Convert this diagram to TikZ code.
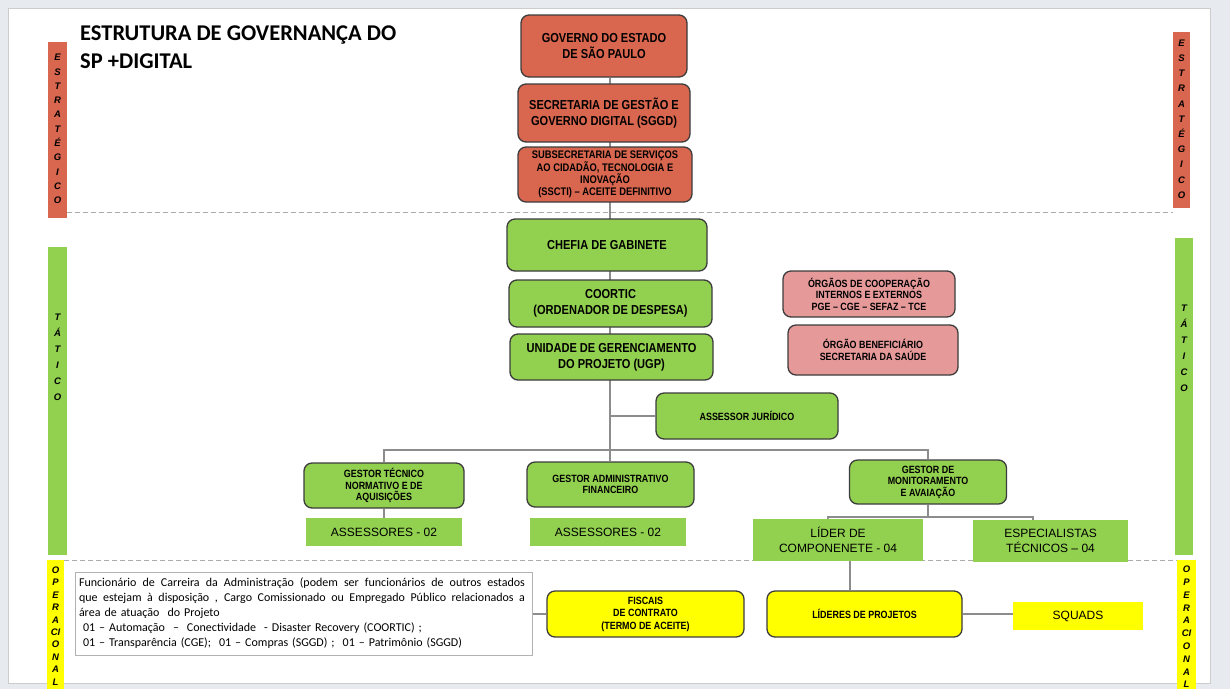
\documentclass[tikz,border=0pt]{standalone}
\usepackage{fontspec}
\setmainfont{Liberation Sans}
\newfontfamily\boxfont[FakeStretch=0.85]{Liberation Sans}
\newfontfamily\titlefont{Carlito}
\usetikzlibrary{calc}
\usetikzlibrary{backgrounds}

\definecolor{redfill}{RGB}{217,102,79}
\definecolor{greenfill}{RGB}{146,208,80}
\definecolor{pinkfill}{RGB}{230,153,153}
\definecolor{yellowfill}{RGB}{255,255,0}
\definecolor{boxline}{RGB}{60,60,60}
\definecolor{linkgray}{RGB}{140,140,140}
\definecolor{framegray}{RGB}{231,234,239}

% justified line of the note box
\newcommand{\spreadline}[1]{\leavevmode\hbox to 446pt{\spaceskip=2.7pt plus 1fil\relax #1}}

\begin{document}
\begin{tikzpicture}[x=1pt,y=-1pt]

% Define styles
\tikzset{
    box/.style={draw=boxline, line width=1.3pt, rounded corners=8pt, align=center, inner sep=2pt,
        font=\boxfont\bfseries\fontsize{13}{16}\selectfont},
    smalltext/.style={font=\boxfont\bfseries\fontsize{10.5}{11.5}\selectfont},
    redbox/.style={box, fill=redfill},
    greenbox/.style={box, fill=greenfill},
    pinkbox/.style={box, fill=pinkfill, smalltext},
    yellowbox/.style={box, fill=yellowfill, smalltext},
    greenflat/.style={fill=greenfill, align=center, inner sep=1pt, font=\fontsize{12}{15}\selectfont},
    yellowflat/.style={fill=yellowfill, align=center, inner sep=1pt, font=\fontsize{12}{15}\selectfont},
    barletters/.style={align=center, inner sep=0pt, font=\bfseries\itshape\fontsize{9.5}{#1}\selectfont},
    sepline/.style={draw=gray!65, line width=1pt, dash pattern=on 5pt off 3pt},
    link/.style={draw=linkgray, line width=1.2pt}
}

% zeige nur die Seite
\useasboundingbox (0,0) rectangle (1230,689);

% level bars, left and right
\fill[redfill] (48,42) rectangle (67,218);
\fill[redfill] (1173,32) rectangle (1190,208);
\fill[greenfill] (48,247) rectangle (67,555);
\fill[greenfill] (1175,238) rectangle (1193,555);
\fill[yellowfill] (47,560) rectangle (64,689);
\fill[yellowfill] (1177,560) rectangle (1196,689);

\node[barletters=14.3] (ESTL) at (57.5,129) {E\\S\\T\\R\\A\\T\\É\\G\\I\\C\\O};
\node[barletters=15.2] (ESTR) at (1181.5,119) {E\\S\\T\\R\\A\\T\\É\\G\\I\\C\\O};
\node[barletters=16] (TATL) at (57.5,357) {T\\Á\\T\\I\\C\\O};
\node[barletters=16] (TATR) at (1184,348) {T\\Á\\T\\I\\C\\O};
\node[barletters=12.4] (OPEL) at (55.5,626) {O\\P\\E\\R\\A\\CI\\O\\N\\A\\L};
\node[barletters=12.8] (OPER) at (1186.5,627) {O\\P\\E\\R\\A\\CI\\O\\N\\A\\L};

% level separators
\draw[sepline] (67,212) -- (1173,212);
\draw[sepline] (64,560) -- (1177,560);

% title
\node[anchor=north west, align=left, inner sep=0pt,
    font=\titlefont\bfseries\fontsize{22.5}{28}\selectfont] (TITLE) at (80,26)
    {ESTRUTURA DE GOVERNANÇA DO\\SP +DIGITAL};

% strategic level
\node[redbox, minimum width=166, minimum height=62] (GOV) at (604,46) {GOVERNO DO ESTADO\\DE SÃO PAULO};
\node[redbox, minimum width=172, minimum height=58] (SEC) at (604,113) {SECRETARIA DE GESTÃO E\\GOVERNO DIGITAL (SGGD)};
\node[redbox, minimum width=174, minimum height=55, font=\boxfont\bfseries\fontsize{11}{12}\selectfont] (SUB) at (605,174.5)
    {SUBSECRETARIA DE SERVIÇOS\\AO CIDADÃO, TECNOLOGIA E\\INOVAÇÃO\\(SSCTI) – ACEITE DEFINITIVO};

% tactical level
\node[greenbox, minimum width=200, minimum height=52] (CHEF) at (607,245) {CHEFIA DE GABINETE};
\node[greenbox, minimum width=203, minimum height=47] (COOR) at (610.5,303.5) {COORTIC\\(ORDENADOR DE DESPESA)};
\node[greenbox, minimum width=203, minimum height=46] (UGP) at (611.5,357) {UNIDADE DE GERENCIAMENTO\\DO PROJETO (UGP)};
\node[greenbox, smalltext, minimum width=182, minimum height=46] (ASJ) at (747,416) {ASSESSOR JURÍDICO};

\node[pinkbox, minimum width=172, minimum height=46] (ORGC) at (869,294) {ÓRGÃOS DE COOPERAÇÃO\\INTERNOS E EXTERNOS\\PGE – CGE – SEFAZ – TCE};
\node[pinkbox, minimum width=170, minimum height=50] (ORGB) at (873,350) {ÓRGÃO BENEFICIÁRIO\\SECRETARIA DA SAÚDE};

\node[greenbox, smalltext, minimum width=160, minimum height=45] (GTEC) at (384,485.5) {GESTOR TÉCNICO\\NORMATIVO E DE\\AQUISIÇÕES};
\node[greenbox, smalltext, minimum width=167, minimum height=45] (GADM) at (610.5,484.5) {GESTOR ADMINISTRATIVO\\FINANCEIRO};
\node[greenbox, smalltext, minimum width=157, minimum height=44] (GMON) at (928,482) {GESTOR DE\\MONITORAMENTO\\E AVAIAÇÃO};

\node[greenflat, minimum width=156, minimum height=28] (ASS1) at (384,532) {ASSESSORES - 02};
\node[greenflat, minimum width=156, minimum height=28] (ASS2) at (608,532) {ASSESSORES - 02};
\node[greenflat, minimum width=170, minimum height=42] (LCOMP) at (838,540) {LÍDER DE\\COMPONENETE - 04};
\node[greenflat, minimum width=155, minimum height=42] (ESPEC) at (1050.5,541) {ESPECIALISTAS\\TÉCNICOS – 04};

% operational level
\node[draw=gray!60, line width=0.8pt, minimum width=457, minimum height=83, inner xsep=4pt, inner ysep=3pt,
    text width=449, align=left, font=\titlefont\fontsize{12}{15}\selectfont] (TXT) at (303.5,613.5)
    {\spreadline{Funcionário de Carreira da Administração (podem ser funcionários de outros estados}\\
     \spreadline{que estejam à disposição , Cargo Comissionado ou Empregado Público relacionados a}\\
     área de atuação~ do Projeto\\
     \ 01 – Automação ~–~ Conectividade ~- Disaster Recovery (COORTIC) ;\\
     \ 01 – Transparência (CGE);~ 01 – Compras (SGGD) ;~ 01 – Patrimônio (SGGD)};

\node[yellowbox, minimum width=197, minimum height=46, font=\boxfont\bfseries\fontsize{10.5}{12.5}\selectfont] (FISC) at (645.5,614)
    {FISCAIS\\DE CONTRATO\\(TERMO DE ACEITE)};
\node[yellowbox, minimum width=195, minimum height=46] (LIDP) at (864.5,614) {LÍDERES DE PROJETOS};
\node[yellowflat, minimum width=130, minimum height=28] (SQ) at (1078,616) {SQUADS};

% connection points
\coordinate (TRUNK) at (610,0);
\coordinate (BUS) at (610,450);
\coordinate (MBUS) at (928,517);
\coordinate (MBL) at (828,517);
\coordinate (MBR) at (1033,517);
\coordinate (DROP) at (850,0);

% frame and connectors behind the boxes
\begin{scope}[on background layer]
\fill[framegray] (0,0) rectangle (1230,689);
\fill[white] (8,8) rectangle (1210,683);
\draw[gray!40, line width=0.6pt] (8,8) rectangle (1210,683);

\draw[link] (GOV.south -| TRUNK) -- (GADM.north -| TRUNK);
\draw[link] (ASJ.west) -- (ASJ.west -| TRUNK);
\draw[link] (GTEC.north) |- (BUS) -| (GMON.north);
\draw[link] (GTEC.south) -- (ASS1.north);
\draw[link] (GMON.south) -- (MBUS);
\draw[link] (LCOMP.north -| MBL) -- (MBL) -- (MBR) -- (ESPEC.north -| MBR);
\draw[link] (LCOMP.south -| DROP) -- (LIDP.north -| DROP);
\draw[link] (TXT.east |- FISC.west) -- (FISC.west);
\draw[link] (LIDP.east) -- (LIDP.east -| SQ.west);
\end{scope}

\end{tikzpicture}
\end{document}
